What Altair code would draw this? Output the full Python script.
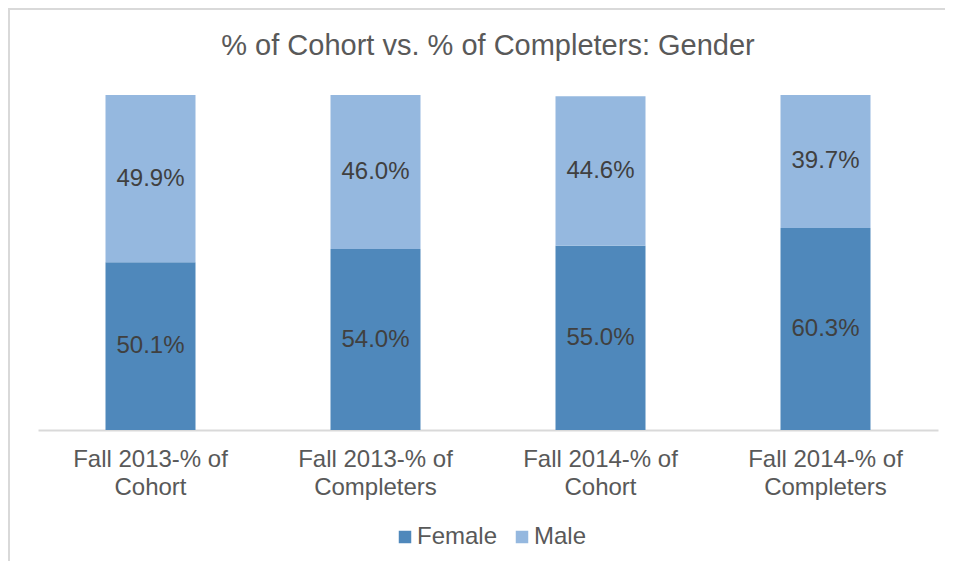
import altair as alt
import pandas as pd

categories = [
    "Fall 2013-% of Cohort",
    "Fall 2013-% of Completers",
    "Fall 2014-% of Cohort",
    "Fall 2014-% of Completers",
]
series = ["Female", "Male"]
female = [0.501, 0.540, 0.550, 0.603]
male = [0.499, 0.460, 0.446, 0.397]
colors = ["#4F88BB", "#95B8DF"]
title_text = "% of Cohort vs. % of Completers: Gender"

rows = []
for i, c in enumerate(categories):
    rows.append({"category": c, "gender": series[0], "value": female[i], "order": 0})
    rows.append({"category": c, "gender": series[1], "value": male[i], "order": 1})
df = pd.DataFrame(rows)

FONT = "Liberation Sans"

x_enc = alt.X(
    "category:N",
    sort=categories,
    scale=alt.Scale(paddingInner=0.6, paddingOuter=0.3),
    axis=alt.Axis(
        title=None,
        labelAngle=0,
        ticks=False,
        grid=False,
        domainColor="#D9D9D9",
        domainWidth=2,
        labelFont=FONT,
        labelFontSize=24,
        labelColor="#595959",
        labelPadding=17,
        labelLineHeight=28,
        labelBaseline="top",
        labelExpr="[slice(datum.label, 0, indexof(datum.label, ' of ') + 3), slice(datum.label, indexof(datum.label, ' of ') + 4)]",
    ),
)
y_scale = alt.Scale(domain=[0, 1], nice=False)

base = (
    alt.Chart(df)
    .transform_stack(
        stack="value",
        groupby=["category"],
        as_=["y0", "y1"],
        sort=[alt.SortField(field="order", order="ascending")],
    )
    .transform_calculate(mid="(datum.y0 + datum.y1) / 2")
)

bars = base.mark_bar().encode(
    x=x_enc,
    y=alt.Y("y0:Q", scale=y_scale, axis=None),
    y2="y1:Q",
    color=alt.Color(
        "gender:N",
        scale=alt.Scale(domain=series, range=colors),
        legend=alt.Legend(
            title=None,
            orient="none",
            legendX=355,
            legendY=430,
            direction="horizontal",
            symbolType="square",
            symbolSize=156,
            symbolStrokeWidth=0,
            labelFont=FONT,
            labelFontSize=24,
            labelColor="#595959",
            labelOffset=0,
            columnPadding=12,
            padding=0,
        ),
    ),
)

labels = base.mark_text(font=FONT, fontSize=24, color="#404040").encode(
    x=x_enc,
    y=alt.Y("mid:Q", scale=y_scale, axis=None),
    text=alt.Text("value:Q", format=".1%"),
)

frame_df = pd.DataFrame({"f": [0]})
frame_left = (
    alt.Chart(frame_df)
    .mark_rule(stroke="#D9D9D9", strokeWidth=2)
    .encode(x=alt.value(-29), y=alt.value(-87), y2=alt.value(466))
)
frame_top = (
    alt.Chart(frame_df)
    .mark_rule(stroke="#D9D9D9", strokeWidth=2)
    .encode(y=alt.value(-86), x=alt.value(-30), x2=alt.value(907))
)

chart = (
    alt.layer(frame_left, frame_top, bars, labels)
    .properties(
        width=900,
        height=335,
        autosize=alt.AutoSizeParams(type="none"),
        padding={"left": 30, "top": 87, "right": 7, "bottom": 131},
        title=alt.Title(
            title_text,
            font=FONT,
            fontSize=29,
            fontWeight="normal",
            color="#595959",
            anchor="middle",
            baseline="alphabetic",
            offset=-77,
        ),
    )
    .configure_view(stroke=None)
)

chart.save("out.html", embed_options={"renderer": "svg", "actions": False})
